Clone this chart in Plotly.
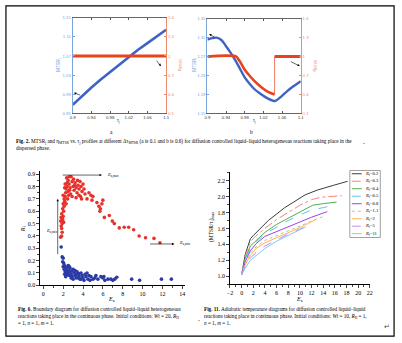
import plotly.graph_objects as go

W, H = 402, 343


def fx(p):
    return p / W


def fy(p):
    return 1 - p / H


# ---------------- Fig. 2a : MTSR_j and eta_MTSR vs tau_j (delta = 0.1) ----------------
tau_a = [0.90, 0.92, 0.94, 0.96, 0.98, 1.00, 1.02, 1.04, 1.06, 1.08, 1.10]
mtsr_a = [0.968, 0.987, 1.004, 1.021, 1.037, 1.053, 1.068, 1.083, 1.097, 1.111, 1.125]
eta_a_tau = [0.90, 1.10]
eta_a = [1.0, 1.0]

# ---------------- Fig. 2b : MTSR_j and eta_MTSR vs tau_j (delta = 0.6) ----------------
tau_b = [0.90, 0.91, 0.92, 0.93, 0.94, 0.95, 0.96, 0.97, 0.98, 0.99, 1.00, 1.01,
         1.02, 1.03, 1.04, 1.045, 1.05, 1.06, 1.07, 1.08, 1.09, 1.10]
mtsr_b = [1.306, 1.309, 1.310, 1.305, 1.292, 1.278, 1.262, 1.244, 1.226, 1.213,
          1.202, 1.194, 1.187, 1.181, 1.177, 1.176, 1.179, 1.187, 1.196, 1.204,
          1.211, 1.218]
eta_b_tau1 = [0.90, 0.962, 0.966, 0.97, 0.98, 0.99, 1.00, 1.01, 1.02, 1.03, 1.044]
eta_b1 = [1.0, 1.0, 0.96, 0.92, 0.79, 0.70, 0.62, 0.55, 0.49, 0.44, 0.40]
eta_b_jump_tau = [1.044, 1.044]
eta_b_jump = [0.40, 1.0]
eta_b_tau2 = [1.044, 1.10]
eta_b2 = [1.0, 1.0]

tau_ticks = [0.90, 0.94, 0.98, 1.02, 1.06, 1.10]
tau_ticktext = ["0.9", "0.94", "0.98", "1.02", "1.06", "1.1"]
mtsr_a_ticks = [0.95, 0.99, 1.03, 1.07, 1.11, 1.15]
mtsr_b_ticks = [1.15, 1.19, 1.23, 1.27, 1.31, 1.35]
eta_ticks = [0.1, 0.4, 0.7, 1.0, 1.3, 1.6]
eta_ticktext = ["0.1", "0.4", "0.7", "1", "1.3", "1.6"]

# ---------------- Fig. 6 : boundary diagram ----------------
red_E = [1.75, 1.85, 1.90, 1.85, 1.80, 1.75, 1.90, 1.95, 1.80, 2.00, 1.85, 2.05,
         1.95, 2.10, 2.00, 2.15, 1.90, 2.05, 2.10, 2.20, 2.00, 2.25,
         2.30, 2.40, 2.20, 2.50, 2.35, 2.60, 2.80, 2.50, 2.70, 2.60, 2.90, 2.75,
         3.00, 3.10, 2.90, 3.20, 3.30, 3.40, 3.50, 3.60, 3.70, 3.80, 3.90, 4.00,
         3.30, 3.60, 4.10, 4.20, 2.45, 2.30, 2.55, 3.05, 2.65, 3.45, 3.75, 4.40,
         4.60, 4.80, 5.00, 4.90, 2.15, 2.40, 3.15, 3.85,
         5.40, 5.60, 5.75, 5.90, 6.00, 5.70, 6.15, 6.65, 6.95, 7.15, 7.65, 8.15,
         8.60, 9.10, 9.65, 10.30, 11.15, 11.75]
red_R = [0.39, 0.40, 0.43, 0.46, 0.48, 0.52, 0.50, 0.53, 0.55, 0.56, 0.58, 0.60,
         0.62, 0.64, 0.66, 0.68, 0.54, 0.51, 0.70, 0.72, 0.73, 0.75,
         0.78, 0.80, 0.82, 0.85, 0.87, 0.88, 0.88, 0.76, 0.79, 0.82, 0.84, 0.74,
         0.80, 0.77, 0.72, 0.83, 0.79, 0.75, 0.81, 0.78, 0.84, 0.80, 0.76, 0.82,
         0.71, 0.73, 0.78, 0.74, 0.70, 0.66, 0.73, 0.86, 0.77, 0.85, 0.72, 0.70,
         0.75, 0.73, 0.72, 0.69, 0.79, 0.83, 0.81, 0.70,
         0.67, 0.64, 0.62, 0.66, 0.69, 0.60, 0.55, 0.565, 0.52, 0.50, 0.465, 0.47,
         0.47, 0.45, 0.40, 0.385, 0.38, 0.345]
blue_E = [1.80, 1.90, 2.00, 1.95, 2.05, 2.10, 2.20, 2.00, 2.10, 2.30, 2.20, 2.40,
          2.50, 2.60, 2.70, 2.50, 2.60, 2.80, 2.90, 3.00, 3.10, 3.20, 3.30, 3.40,
          3.50, 3.60, 3.70, 3.80, 3.90, 4.00, 4.20, 4.30, 4.50, 4.60, 4.80, 5.00,
          5.20, 5.50, 5.80, 6.00, 6.20, 6.50, 6.80, 7.00, 7.20, 7.40, 8.90, 9.70,
          11.90, 12.90, 2.30, 2.40, 2.70, 2.80, 3.00, 3.20, 3.50, 4.10, 4.40, 2.15,
          2.25, 2.60, 3.30, 3.80, 4.70, 5.30, 6.10, 2.35, 2.90, 3.60]
blue_R = [0.31, 0.23, 0.22, 0.19, 0.18, 0.165, 0.15, 0.15, 0.13, 0.12, 0.11, 0.10,
          0.16, 0.155, 0.14, 0.09, 0.08, 0.09, 0.07, 0.13, 0.10, 0.08, 0.06, 0.11,
          0.09, 0.07, 0.05, 0.10, 0.08, 0.06, 0.09, 0.07, 0.05, 0.08, 0.07, 0.05,
          0.06, 0.05, 0.07, 0.06, 0.04, 0.05, 0.05, 0.04, 0.05, 0.065, 0.05, 0.04,
          0.05, 0.05, 0.08, 0.14, 0.11, 0.06, 0.05, 0.12, 0.06, 0.04, 0.10, 0.09,
          0.07, 0.12, 0.09, 0.05, 0.04, 0.08, 0.07, 0.105, 0.115, 0.095]

# ---------------- Fig. 11 : adiabatic temperature diagrams ----------------
rf_labels = ["0.2", "0.3", "0.4", "0.5", "0.8", "1.1", "2", "5", "11"]
ea_02 = [0, 0.6, 1.5, 2.0, 4.6, 7.4, 10.9, 13.0, 15.8, 18.2]
mt_02 = [1.02, 1.27, 1.47, 1.51, 1.70, 1.86, 2.02, 2.08, 2.14, 2.19]
ea_03 = [0, 0.6, 1.5, 2.2, 4.0, 6.0, 8.0, 10.0, 12.0, 13.6, 17.2]
mt_03 = [1.02, 1.25, 1.43, 1.49, 1.60, 1.71, 1.80, 1.89, 1.96, 1.99, 2.01]
ea_04 = [0, 0.6, 1.5, 2.5, 4.0, 6.0, 8.0, 10.0, 12.2, 14.0, 16.3]
mt_04 = [1.02, 1.22, 1.38, 1.45, 1.55, 1.65, 1.73, 1.81, 1.89, 1.91, 1.93]
ea_05 = [0, 0.6, 1.5, 2.5, 4.0, 6.0, 8.0, 10.0, 12.0, 14.0, 15.8]
mt_05 = [1.02, 1.20, 1.35, 1.43, 1.53, 1.62, 1.70, 1.77, 1.83, 1.86, 1.89]
ea_08 = [0, 0.6, 1.5, 2.5, 4.0, 6.0, 8.0, 10.0, 12.0, 14.7]
mt_08 = [1.02, 1.18, 1.32, 1.41, 1.50, 1.56, 1.62, 1.68, 1.74, 1.81]
ea_11 = [0, 0.6, 1.5, 2.5, 4.0, 6.0, 8.0, 10.0, 12.0, 14.0]
mt_11 = [1.02, 1.16, 1.29, 1.37, 1.45, 1.51, 1.57, 1.63, 1.69, 1.75]
ea_2 = [0, 0.6, 1.5, 2.5, 4.0, 6.0, 8.0, 10.0, 12.7]
mt_2 = [1.02, 1.14, 1.26, 1.35, 1.42, 1.48, 1.55, 1.61, 1.71]
ea_5 = [0, 0.6, 1.5, 2.5, 4.0, 6.0, 8.0, 10.0, 11.5]
mt_5 = [1.02, 1.12, 1.23, 1.30, 1.38, 1.46, 1.53, 1.59, 1.64]
ea_11b = [0, 0.6, 1.5, 2.5, 4.0, 6.0, 8.0, 10.0, 11.0]
mt_11b = [1.02, 1.10, 1.20, 1.26, 1.35, 1.44, 1.51, 1.58, 1.62]

fig11_series = [
    (ea_02, mt_02, "#3c3c3c", "solid"),
    (ea_03, mt_03, "#ff7f7f", "dashdot"),
    (ea_04, mt_04, "#4fb04f", "solid"),
    (ea_05, mt_05, "#5fc4f0", "dash"),
    (ea_08, mt_08, "#9b45f0", "solid"),
    (ea_11, mt_11, "#c3c37a", "dot"),
    (ea_2, mt_2, "#ffb060", "solid"),
    (ea_5, mt_5, "#c08cf5", "dash"),
    (ea_11b, mt_11b, "#80c8ff", "solid"),
]

BLUE = "#3f63c4"
RED = "#e8431f"
LBLUE = "#7aa4dc"
LRED = "#ee8a6e"
SERIF = "Liberation Serif"
SANS = "Liberation Sans"
TINY = 4.3

fig = go.Figure()

# Fig. 2a traces
fig.add_trace(go.Scatter(x=tau_a, y=mtsr_a, mode="lines", line=dict(color=BLUE, width=2.6),
                         xaxis="x", yaxis="y", showlegend=False))
fig.add_trace(go.Scatter(x=eta_a_tau, y=eta_a, mode="lines", line=dict(color=RED, width=3),
                         xaxis="x", yaxis="y2", showlegend=False))
# Fig. 2b traces
fig.add_trace(go.Scatter(x=tau_b, y=mtsr_b, mode="lines", line=dict(color=BLUE, width=2.4, shape="spline"),
                         xaxis="x2", yaxis="y3", showlegend=False))
fig.add_trace(go.Scatter(x=eta_b_tau1, y=eta_b1, mode="lines", line=dict(color=RED, width=2.6, shape="spline"),
                         xaxis="x2", yaxis="y4", showlegend=False))
fig.add_trace(go.Scatter(x=eta_b_jump_tau, y=eta_b_jump, mode="lines", line=dict(color=RED, width=0.7),
                         xaxis="x2", yaxis="y4", showlegend=False))
fig.add_trace(go.Scatter(x=eta_b_tau2, y=eta_b2, mode="lines", line=dict(color=RED, width=3),
                         xaxis="x2", yaxis="y4", showlegend=False))

# Fig. 6 traces
fig.add_trace(go.Scatter(x=red_E, y=red_R, mode="markers", marker=dict(color="#e5322b", size=3.6),
                         xaxis="x3", yaxis="y5", showlegend=False, cliponaxis=False))
fig.add_trace(go.Scatter(x=blue_E, y=blue_R, mode="markers", marker=dict(color="#2c3aa6", size=3.6),
                         xaxis="x3", yaxis="y5", showlegend=False, cliponaxis=False))

# Fig. 11 traces
for (xs, ys, col, dash), lab in zip(fig11_series, rf_labels):
    fig.add_trace(go.Scatter(x=xs, y=ys, mode="lines", line=dict(color=col, width=1, dash=dash),
                             xaxis="x4", yaxis="y6", name="R<sub>f</sub>=" + lab, showlegend=False))


def top_x(domain, anchor):
    return dict(domain=domain, anchor=anchor, range=[0.9, 1.1], tickvals=tau_ticks,
                ticktext=tau_ticktext, ticks="inside", ticklen=2, tickcolor="#555",
                showline=True, linecolor="#666", linewidth=0.8, mirror="ticks",
                tickfont=dict(family=SANS, size=TINY, color="#333"), showgrid=False,
                zeroline=False)


def top_y(domain, anchor, rng, vals, text=None, color=LBLUE, side="left", overlaying=None):
    d = dict(domain=domain, anchor=anchor, range=rng, tickvals=vals, ticks="inside", ticklen=2,
             tickcolor=color, showline=True, linecolor=color, linewidth=1, side=side,
             tickfont=dict(family=SANS, size=TINY, color=color), showgrid=False, zeroline=False)
    if text is not None:
        d["ticktext"] = text
    if overlaying:
        d["overlaying"] = overlaying
    return d


dom_top_y = [fy(113), fy(16)]
dom_top_yb = [fy(113), fy(17)]

fig.update_layout(
    width=W, height=H, margin=dict(l=0, r=0, t=0, b=0),
    paper_bgcolor="white", plot_bgcolor="white",
    xaxis=top_x([fx(71), fx(166)], "y"),
    yaxis=top_y(dom_top_y, "x", [0.95, 1.15], mtsr_a_ticks,
                [f"{v:.2f}" for v in mtsr_a_ticks]),
    yaxis2=top_y(dom_top_y, "x", [0.1, 1.6], eta_ticks, eta_ticktext, LRED, "right", "y"),
    xaxis2=top_x([fx(208), fx(303)], "y3"),
    yaxis3=top_y(dom_top_yb, "x2", [1.15, 1.35], mtsr_b_ticks,
                 [f"{v:.2f}" for v in mtsr_b_ticks]),
    yaxis4=top_y(dom_top_yb, "x2", [0.1, 1.6], eta_ticks, eta_ticktext, LRED, "right", "y3"),
    xaxis3=dict(domain=[fx(38), fx(185.5)], anchor="y5", range=[-0.3, 14.3], tickvals=list(range(0, 15, 2)),
                ticks="outside", ticklen=3, tickwidth=0.7, showline=True, linecolor="black",
                linewidth=0.7, showgrid=False, zeroline=False,
                minor=dict(dtick=1, ticks="outside", ticklen=2, tickwidth=0.6),
                tickfont=dict(family=SERIF, size=6, color="black")),
    yaxis5=dict(domain=[fy(287.5), fy(171)], anchor="x3", range=[0, 0.93], dtick=0.1, tick0=0,
                tickformat=".1f", ticks="outside", ticklen=3, tickwidth=0.7, showline=True,
                linecolor="black", linewidth=0.7, showgrid=False, zeroline=False,
                minor=dict(dtick=0.05, ticks="outside", ticklen=2, tickwidth=0.6),
                tickfont=dict(family=SERIF, size=6, color="black")),
    xaxis4=dict(domain=[fx(231), fx(373.3)], anchor="y6", range=[-2, 22], dtick=2, tick0=-2,
                ticks="outside", ticklen=3, tickwidth=0.7, showline=True, linecolor="black",
                linewidth=0.7, showgrid=False, zeroline=False,
                minor=dict(dtick=1, ticks="outside", ticklen=2, tickwidth=0.6),
                tickfont=dict(family=SERIF, size=6, color="black")),
    yaxis6=dict(domain=[fy(286.5), fy(173)], anchor="x4", range=[0.9, 2.3],
                tickvals=[1.0, 1.2, 1.4, 1.6, 1.8, 2.0, 2.2], tickformat=".1f",
                ticks="outside", ticklen=3, tickwidth=0.7, showline=True, linecolor="black",
                linewidth=0.7, showgrid=False, zeroline=False,
                minor=dict(dtick=0.1, ticks="outside", ticklen=2, tickwidth=0.6),
                tickfont=dict(family=SERIF, size=6, color="black")),
)

ann = []


def text(x, y, s, size=5, color="black", family=SERIF, xanchor="center", angle=0, xref="paper", yref="paper"):
    ann.append(dict(x=x, y=y, xref=xref, yref=yref, text=s, showarrow=False, xanchor=xanchor,
                    yanchor="middle", textangle=angle,
                    font=dict(size=size, color=color, family=family)))


def arrow(x, y, ax, ay, xref, yref):
    ann.append(dict(x=x, y=y, ax=ax, ay=ay, xref=xref, yref=yref, axref=xref, ayref=yref,
                    text="", showarrow=True, arrowhead=2, arrowsize=0.8, arrowwidth=0.6,
                    arrowcolor="black"))


# axis titles, Fig. 2
text(fx(57), fy(64), "MTSR<sub>j</sub>", TINY + 0.3, LBLUE, SANS, angle=-90)
text(fx(180), fy(64), "η<sub>MTSR</sub>", TINY + 0.3, LRED, SANS, angle=-90)
text(fx(118), fy(121), "τ<sub>j</sub>", TINY + 0.3, "#333", SANS)
text(fx(195), fy(64), "MTSR<sub>j</sub>", TINY + 0.3, LBLUE, SANS, angle=-90)
text(fx(318), fy(64), "η<sub>MTSR</sub>", TINY + 0.3, LRED, SANS, angle=-90)
text(fx(256), fy(121), "τ<sub>j</sub>", TINY + 0.3, "#333", SANS)
text(fx(110), fy(132), "a", 5.5)
text(fx(253), fy(132), "b", 5.5)

arrow(0.9025, 0.993, 0.919, 0.987, "x", "y")
arrow(1.089, 0.84, 1.077, 0.95, "x", "y2")
arrow(0.904, 1.318, 0.918, 1.309, "x2", "y3")
arrow(1.098, 0.85, 1.076, 0.93, "x2", "y4")

# Fig. 6 annotations
arrow(1.45, 0.70, 1.45, 0.24, "x3", "y5")
arrow(5.9, 0.893, 1.8, 0.893, "x3", "y5")
arrow(13.2, 0.335, 10.6, 0.335, "x3", "y5")
text(6.2, 0.893, "<i>E</i><sub>a,max</sub>", 4.6, xanchor="left", xref="x3", yref="y5")
text(0.1, 0.435, "<i>E</i><sub>a,min</sub>", 4.6, xanchor="left", xref="x3", yref="y5")
text(13.5, 0.335, "<i>E</i><sub>a,min</sub>", 4.6, xanchor="left", xref="x3", yref="y5")
text(fx(21), fy(230), "<i>R</i><sub>f</sub>", 6, angle=-90)
text(fx(110), fy(302), "<i>E</i><sub>a</sub>", 6)

# Fig. 11 axis titles
text(fx(212), fy(228), "(MTSR/τ<sub>j</sub>)<sub>max</sub>", 5.5, angle=-90)
text(fx(302), fy(302), "<i>E</i><sub>a</sub>", 6)

# Fig. 11 legend box
shapes = [dict(type="rect", xref="paper", yref="paper", x0=fx(353), x1=fx(384), y0=fy(239), y1=fy(171),
               line=dict(color="#888", width=0.8))]
for i, ((_, _, col, dash), lab) in enumerate(zip(fig11_series, rf_labels)):
    yy = 174.3 + i * 7.6
    shapes.append(dict(type="line", xref="paper", yref="paper", x0=fx(355), x1=fx(365),
                       y0=fy(yy), y1=fy(yy), line=dict(color=col, width=1, dash=dash)))
    text(fx(366), fy(yy), "<i>R</i><sub>f</sub>=" + lab, 4.6, xanchor="left")

# outer frame
shapes.append(dict(type="rect", xref="paper", yref="paper", x0=fx(3), x1=fx(398), y0=fy(339), y1=fy(4),
                   line=dict(color="black", width=1.2)))

# captions
cap = dict(size=5.2, xanchor="left")
text(fx(11), fy(142), "<b>Fig. 2.</b> MTSR<sub>j</sub> and η<sub>MTSR</sub> vs. τ<sub>j</sub> profiles at different "
     "Δτ<sub>MTSR</sub> (a is 0.1 and b is 0.6) for diffusion controlled liquid–liquid heterogeneous "
     "reactions taking place in the", **cap)
text(fx(11), fy(148.5), "dispersed phase.", **cap)
text(fx(364), fy(143), "-", **cap)

text(fx(13), fy(312), "<b>Fig. 6.</b> Boundary diagram for diffusion controlled liquid–liquid heterogeneous", **cap)
text(fx(13), fy(319), "reactions taking place in the continuous phase. Initial conditions: <i>Wt</i> = 20, "
     "<i>R</i><sub>H</sub>", **cap)
text(fx(13), fy(326), "= 1, <i>n</i> = 1, <i>m</i> = 1.", **cap)
text(fx(196), fy(323), "-", **cap)

text(fx(203), fy(312), "<b>Fig. 11.</b> Adiabatic temperature diagrams for diffusion controlled liquid–liquid", **cap)
text(fx(203), fy(319), "reactions taking place in continuous phase. Initial conditions: <i>Wt</i> = 10, "
     "<i>R</i><sub>H</sub> = 1,", **cap)
text(fx(203), fy(326), "<i>n</i> = 1, <i>m</i> = 1.", **cap)
text(fx(391), fy(330), "↵", 7, "#444", "DejaVu Sans")

fig.update_layout(annotations=ann, shapes=shapes)
fig.write_html("out.html")
